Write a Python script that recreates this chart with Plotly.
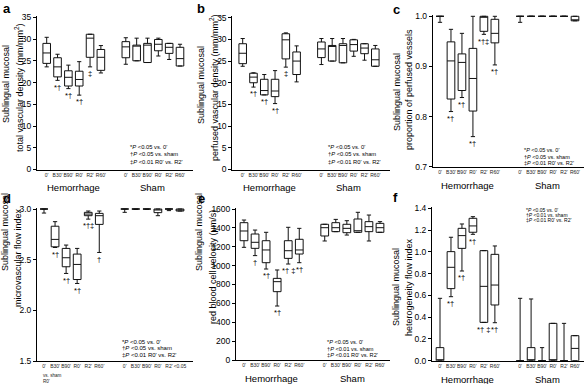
import plotly.graph_objects as go

W, H = 584, 384
FONT = "Liberation Sans, Arial, sans-serif"

categories = ["0'", "B30'", "B90'", "R0'", "R2'", "R60'"]
groups = ["Hemorrhage", "Sham"]
positions = [0, 1, 2, 3, 4, 5, 7.3, 8.3, 9.3, 10.3, 11.3, 12.3]
tick_labels = categories + categories
d_tick_labels = categories + ["0'", "B30'", "B90'", "R0'", "R2'", "<0.05"]

# ---- panel a: total vascular density ----
a_upper = [30.4, 26.5, 24.0, 24.8, 31.1, 28.5, 30.3, 30.2, 30.2, 30.2, 29.0, 28.8]
a_q3 = [29.0, 25.7, 22.7, 22.6, 31.1, 27.6, 29.4, 28.6, 29.0, 29.9, 29.0, 28.1]
a_med = [26.8, 23.6, 21.2, 20.7, 30.2, 25.8, 28.2, 28.6, 28.6, 28.8, 28.1, 25.5]
a_q1 = [24.4, 21.3, 19.2, 19.2, 25.8, 22.8, 25.7, 25.0, 24.6, 27.3, 26.7, 23.8]
a_lower = [23.6, 20.5, 18.6, 17.1, 23.6, 22.2, 24.2, 25.0, 24.6, 26.1, 25.3, 23.8]
a_sig = ["", "*†", "*†", "*†", "‡", "", "", "", "", "", "", ""]

# ---- panel b: perfused vascular density ----
b_upper = [30.2, 22.3, 21.9, 22.8, 31.5, 28.5, 30.2, 30.2, 30.2, 30.0, 29.0, 28.6]
b_q3 = [29.0, 22.2, 20.8, 20.8, 31.3, 27.1, 29.4, 28.6, 29.0, 29.9, 29.0, 27.8]
b_med = [26.8, 21.3, 18.2, 18.1, 29.9, 25.0, 27.8, 28.6, 28.6, 28.8, 28.0, 25.3]
b_q1 = [24.4, 20.0, 17.2, 16.8, 25.5, 21.9, 25.8, 25.0, 24.6, 27.3, 26.7, 23.8]
b_lower = [23.8, 19.0, 17.2, 15.2, 23.6, 20.2, 24.2, 25.0, 24.6, 26.1, 25.2, 23.8]
b_sig = ["", "*†", "*†", "*†", "‡", "", "", "", "", "", "", ""]

# ---- panel c: proportion of perfused vessels ----
c_upper = [1.0, 0.974, 0.966, 1.0, 1.0, 1.0, 1.0, 1.0, 1.0, 1.0, 1.0, 1.0]
c_q3 = [1.0, 0.949, 0.925, 0.936, 1.0, 0.994, 1.0, 1.0, 1.0, 1.0, 1.0, 1.0]
c_med = [1.0, 0.911, 0.908, 0.876, 1.0, 0.966, 1.0, 1.0, 1.0, 1.0, 1.0, 0.992]
c_q1 = [1.0, 0.835, 0.852, 0.811, 0.970, 0.947, 1.0, 1.0, 1.0, 1.0, 1.0, 0.991]
c_lower = [0.988, 0.810, 0.838, 0.760, 0.964, 0.903, 0.988, 1.0, 1.0, 1.0, 1.0, 0.991]
c_sig = ["", "*†", "*†", "*†", "*†‡", "*†", "", "", "", "", "", ""]

# ---- panel d: microvascular flow index ----
d_upper = [3.0, 2.875, 2.644, 2.611, 2.98, 2.98, 3.0, 3.0, 3.0, 3.0, 3.0, 3.0]
d_q3 = [3.0, 2.83, 2.611, 2.555, 2.967, 2.957, 3.0, 3.0, 3.0, 3.0, 3.0, 3.0]
d_med = [3.0, 2.70, 2.519, 2.453, 2.95, 2.934, 3.0, 3.0, 3.0, 3.0, 3.0, 3.0]
d_q1 = [3.0, 2.627, 2.43, 2.304, 2.934, 2.848, 3.0, 3.0, 3.0, 2.964, 3.0, 2.98]
d_lower = [2.96, 2.62, 2.364, 2.265, 2.90, 2.571, 2.967, 2.995, 2.995, 2.934, 2.984, 2.98]
d_sig = ["", "*†", "*†", "*†", "*†‡", "†", "", "", "", "", "", ""]

# ---- panel e: red blood cell velocity ----
e_upper = [1483, 1377, 1353, 954, 1406, 1395, 1438, 1490, 1476, 1565, 1536, 1466]
e_q3 = [1455, 1335, 1264, 865, 1264, 1279, 1438, 1455, 1438, 1494, 1466, 1448]
e_med = [1367, 1247, 1166, 830, 1158, 1166, 1402, 1402, 1395, 1370, 1413, 1402]
e_q1 = [1264, 1183, 1031, 724, 1077, 1123, 1314, 1360, 1349, 1353, 1360, 1353]
e_lower = [1194, 1106, 964, 572, 1017, 1031, 1261, 1360, 1324, 1353, 1261, 1353]
e_sig = ["", "†", "*†", "*†", "*† ‡", "*†", "", "", "", "", "", ""]

# ---- panel f: heterogeneity flow index ----
f_upper = [0.573, 1.134, 1.256, 1.323, 1.011, 1.054, 0.573, 0.567, 0.12, 0.343, 0.343, 0.23]
f_q3 = [0.12, 1.002, 1.216, 1.308, 1.011, 0.977, 0.0, 0.12, 0.0, 0.343, 0.0, 0.23]
f_med = [0.0, 0.858, 1.149, 1.238, 0.683, 0.695, 0.0, 0.0, 0.0, 0.0, 0.0, 0.113]
f_q1 = [0.0, 0.662, 1.032, 1.18, 0.352, 0.512, 0.0, 0.0, 0.0, 0.0, 0.0, 0.0]
f_lower = [0.0, 0.588, 0.824, 1.161, 0.352, 0.349, 0.0, 0.0, 0.0, 0.0, 0.0, 0.0]
f_sig = ["", "*†", "*†", "*†", "*† ‡", "*†", "", "", "", "", "", ""]

note_05 = ["*<i>P</i> <0.05 vs. 0'", "†<i>P</i> <0.05 vs. sham", "‡<i>P</i> <0.01 R0' vs. R2'"]
note_01 = ["*<i>P</i> <0.05 vs. 0'", "†<i>P</i> <0.01 vs. sham", "‡<i>P</i> <0.01 R0' vs. R2'"]


def px(x):
    return x / W


def py(y):
    return 1 - y / H


panels = [
    dict(letter="a", stats=(a_upper, a_q3, a_med, a_q1, a_lower), sig=a_sig,
         L=37, F=46.7, R=180, right=193, top=17.3, bottom=169.5,
         yrange=[0, 35], dtick=5, fmt="d", ticks=tick_labels,
         t1="Sublingual mucosal", t2="total vascular density (mm/mm<sup>2</sup>)",
         t1x=6, t2x=19, t1c=84, t2c=88, lpos=(7, 8),
         note=note_05, nx=128, ny=[146.7, 154.3, 161.7], nfs=5.8, groups=True),
    dict(letter="b", stats=(b_upper, b_q3, b_med, b_q1, b_lower), sig=b_sig,
         L=232.3, F=242.7, R=375.3, right=390, top=17.7, bottom=169.5,
         yrange=[0, 35], dtick=5, fmt="d", ticks=tick_labels,
         t1="Sublingual mucosal", t2="perfused vascular density (mm/mm<sup>2</sup>)",
         t1x=201, t2x=214, t1c=85, t2c=88, lpos=(201, 8),
         note=note_05, nx=326, ny=[146.7, 154.3, 161.7], nfs=5.8, groups=True),
    dict(letter="c", stats=(c_upper, c_q3, c_med, c_q1, c_lower), sig=c_sig,
         L=432.7, F=440, R=575, right=584, top=16.3, bottom=166.7,
         yrange=[0.7, 1.0], dtick=0.1, fmt=".1f", ticks=tick_labels,
         t1="Sublingual mucosal", t2="proportion of perfused vessels",
         t1x=397, t2x=409, t1c=92, t2c=90, lpos=(396, 9),
         note=note_05, nx=522, ny=[150, 156.8, 163.3], nfs=5.5, groups=True),
    dict(letter="d", stats=(d_upper, d_q3, d_med, d_q1, d_lower), sig=d_sig,
         L=37, F=44, R=180, right=193, top=209, bottom=361,
         yrange=[1.5, 3.0], dtick=0.5, fmt=".1f", ticks=d_tick_labels,
         t1="Sublingual mucosal", t2="microvascular flow index",
         t1x=5, t2x=18, t1c=232, t2c=258, lpos=(7, 198),
         note=note_05, nx=120, ny=[341.7, 348, 354.5], nfs=6.0, groups=False),
    dict(letter="e", stats=(e_upper, e_q3, e_med, e_q1, e_lower), sig=e_sig,
         L=236, F=244, R=380, right=390, top=209, bottom=360,
         yrange=[0, 1600], dtick=200, fmt="d", ticks=tick_labels,
         t1="Sublingual mucosal", t2="red blood cell velocity (μm/s)",
         t1x=199, t2x=213, t1c=232, t2c=267, lpos=(201, 198),
         note=note_01, nx=325, ny=[342, 348.5, 355], nfs=5.6, groups=True),
    dict(letter="f", stats=(f_upper, f_q3, f_med, f_q1, f_lower), sig=f_sig,
         L=432, F=440, R=575, right=584, top=208.3, bottom=360.7,
         yrange=[0, 1.4], dtick=0.2, fmt=".1f", ticks=tick_labels,
         t1="Sublingual mucosal", t2="heterogeneity flow index",
         t1x=396, t2x=409, t1c=287, t2c=287, lpos=(395, 197),
         note=note_01, nx=524, ny=[209.5, 214.7, 219.9], nfs=5.0, groups=True),
]

fig = go.Figure()
layout = dict(template="none", width=W, height=H, margin=dict(l=0, r=0, t=0, b=0, pad=0),
              plot_bgcolor="white", paper_bgcolor="white",
              font=dict(family=FONT, color="black"), showlegend=False)
annotations = []


def tf(size, color="black"):
    return dict(size=size, family=FONT, color=color)


for i, p in enumerate(panels, start=1):
    sfx = "" if i == 1 else str(i)
    xa, ya = "x" + sfx, "y" + sfx
    upper, q3, med, q1, lower = p["stats"]
    span = positions[-1] - positions[0]
    ppu = (p["R"] - p["F"]) / span
    xr = [positions[0] - (p["F"] - p["L"]) / ppu, positions[-1] + (p["right"] - p["R"]) / ppu]
    y0, y1 = p["yrange"]
    ypp = (y1 - y0) / (p["bottom"] - p["top"])
    pad = 1.5
    yr = [y0, y1 + pad * ypp]

    fig.add_trace(go.Box(
        x=positions, q1=q1, median=med, q3=q3, lowerfence=lower, upperfence=upper,
        xaxis=xa, yaxis=ya, width=0.7, whiskerwidth=0.55, boxpoints=False,
        line=dict(color="#111111", width=1), fillcolor="white",
        showlegend=False, hoverinfo="skip"))

    layout["xaxis" + sfx] = dict(
        domain=[px(p["L"]), px(p["right"])], range=xr, anchor=ya, automargin=False,
        tickmode="array", tickvals=positions, ticktext=p["ticks"],
        ticks="", showline=True, linecolor="black", linewidth=1,
        showgrid=False, zeroline=False, fixedrange=True,
        tickfont=tf(5, "#222"), tickangle=0)
    layout["yaxis" + sfx] = dict(
        domain=[py(p["bottom"]), py(p["top"] - pad)], range=yr, anchor=xa, automargin=False,
        tickmode="linear", tick0=y0, dtick=p["dtick"],
        tickformat=p["fmt"] if p["fmt"] != "d" else None,
        ticks="outside", ticklen=3, tickwidth=1, tickcolor="black",
        showline=True, linecolor="black", linewidth=1,
        showgrid=False, zeroline=False, fixedrange=True,
        tickfont=tf(8.5))

    annotations.append(dict(text="<b>%s</b>" % p["letter"], xref="paper", yref="paper",
                            x=px(p["lpos"][0]), y=py(p["lpos"][1]), xanchor="center", yanchor="middle",
                            showarrow=False, font=tf(13)))
    annotations.append(dict(text=p["t1"], xref="paper", yref="paper", x=px(p["t1x"]), y=py(p["t1c"]),
                            textangle=-90, showarrow=False, xanchor="center", yanchor="middle",
                            font=tf(9)))
    annotations.append(dict(text=p["t2"], xref="paper", yref="paper", x=px(p["t2x"]), y=py(p["t2c"]),
                            textangle=-90, showarrow=False, xanchor="center", yanchor="middle",
                            font=tf(9)))
    if p["groups"]:
        for g, gx in zip(groups, [sum(positions[:6]) / 6, sum(positions[6:]) / 6]):
            annotations.append(dict(text=g, xref=xa, yref="paper", x=gx, y=py(p["bottom"] + 18.5),
                                    showarrow=False, xanchor="center", yanchor="middle",
                                    font=tf(9.5)))
    for line, ly in zip(p["note"], p["ny"]):
        annotations.append(dict(text=line, xref="paper", yref="paper", x=px(p["nx"]), y=py(ly),
                                showarrow=False, xanchor="left", yanchor="middle",
                                font=tf(p["nfs"])))
    for xpos, lo, s in zip(positions, lower, p["sig"]):
        if s:
            annotations.append(dict(text=s, xref=xa, yref=ya, x=xpos, y=lo - 0.045 * (y1 - y0),
                                    showarrow=False, xanchor="center", yanchor="middle",
                                    font=tf(7.5)))

annotations.append(dict(text="vs. sham<br>R0'", xref="x4", yref="paper", x=positions[0] - 0.3,
                        y=py(370.5), xanchor="left", yanchor="top", align="left", showarrow=False,
                        font=tf(4.6, "#222")))

layout["annotations"] = annotations
fig.update_layout(**layout)
fig.write_html("out.html", config={"displayModeBar": False},
               post_script="document.body.style.margin='0';document.body.style.overflow='hidden';")
